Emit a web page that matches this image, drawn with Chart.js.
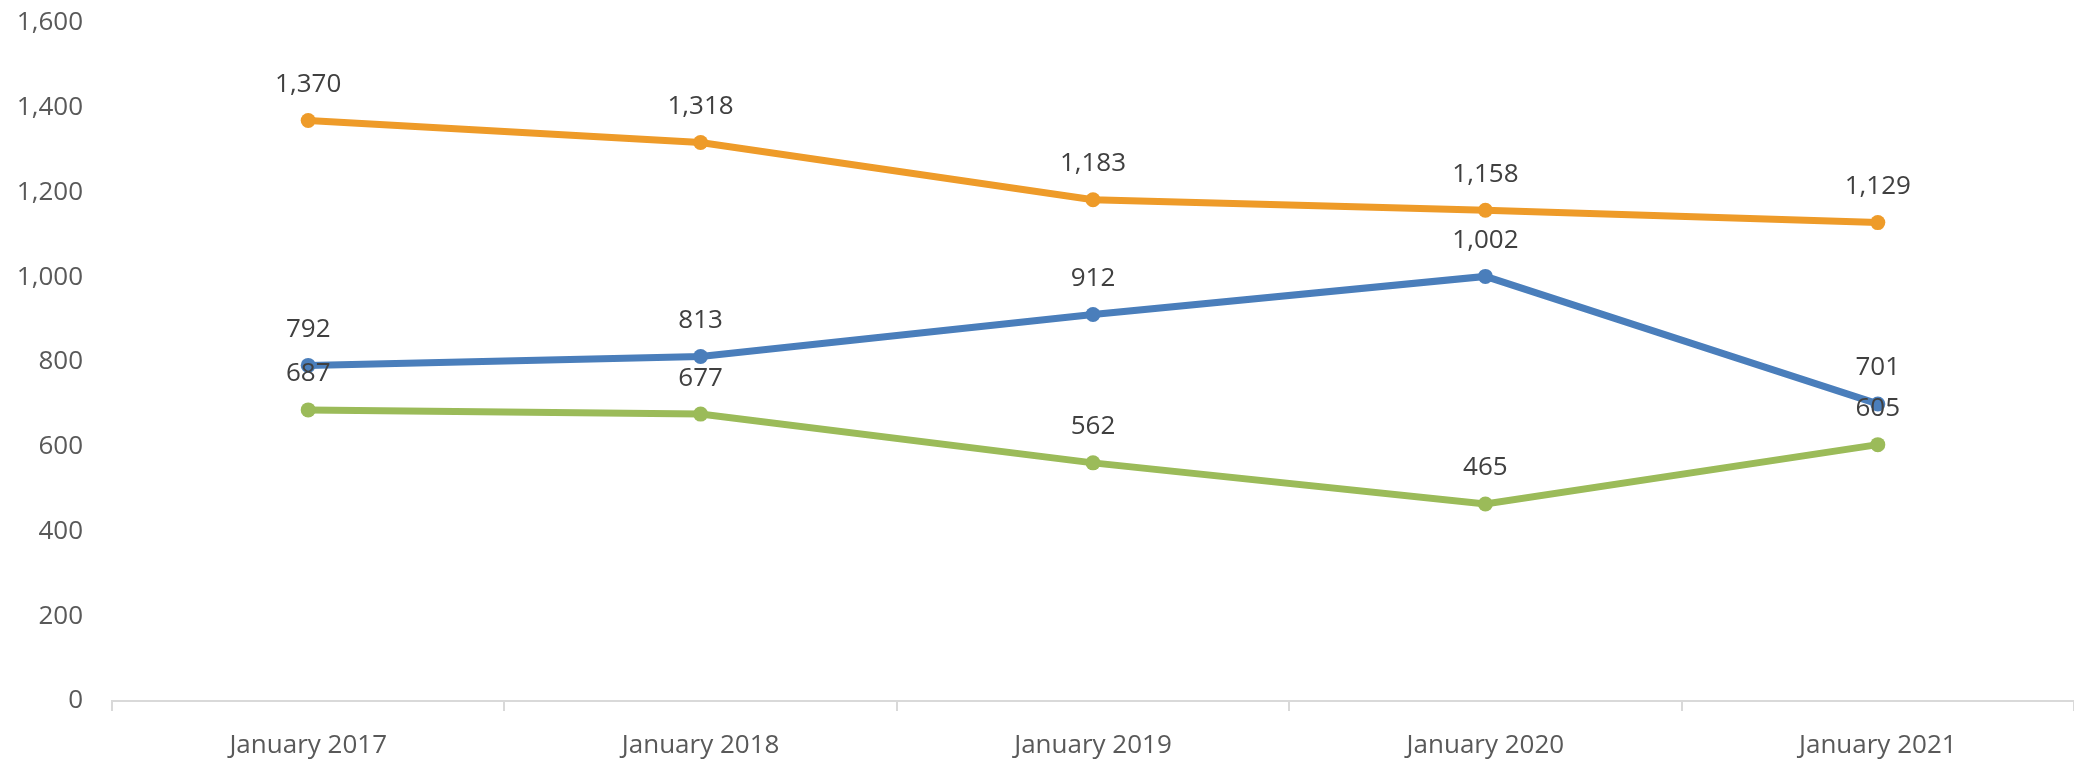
<!DOCTYPE html>
<html>
<head>
<meta charset="utf-8">
<script src="https://cdn.jsdelivr.net/npm/chart.js@4/dist/chart.umd.min.js"></script>
<style>
  html, body { margin: 0; padding: 0; background: #fff; }
  #wrap { width: 2074px; height: 764px; }
</style>
</head>
<body>
<div id="wrap"><canvas id="mainChart" width="2074" height="764"></canvas></div>
<script>
var categories = ["January 2017", "January 2018", "January 2019", "January 2020", "January 2021"];
var blueValues = [792, 813, 912, 1002, 701];
var orangeValues = [1370, 1318, 1183, 1158, 1129];
var greenValues = [687, 677, 562, 465, 605];
var yTicks = [0, 200, 400, 600, 800, 1000, 1200, 1400, 1600];

var main = document.getElementById('mainChart');

// draws the value above each point, like excel data labels
var pointLabels = {
  id: 'pointLabels',
  afterDatasetsDraw: function (chart) {
    var ctx = chart.ctx;
    ctx.save();
    ctx.font = '26px "Open Sans"';
    ctx.fillStyle = '#404040';
    ctx.textAlign = 'center';
    ctx.textBaseline = 'middle';
    chart.data.datasets.forEach(function (ds, i) {
      var meta = chart.getDatasetMeta(i);
      meta.data.forEach(function (pt, j) {
        ctx.fillText(ds.data[j].toLocaleString('en-US'), pt.x, pt.y - 36);
      });
    });
    ctx.restore();
  }
};

function series(values, color) {
  return {
    data: values,
    borderColor: color,
    backgroundColor: color,
    borderWidth: 7,
    pointRadius: 7.5,
    pointHoverRadius: 7.5,
    pointBorderWidth: 0,
    tension: 0
  };
}

var chart = new Chart(main, {
  type: 'line',
  data: {
    labels: categories,
    datasets: [
      series(blueValues, '#4A7EBB'),
      series(orangeValues, '#EE9B29'),
      series(greenValues, '#9BBB59')
    ]
  },
  plugins: [pointLabels],
  options: {
    responsive: false,
    animation: false,
    layout: { autoPadding: false, padding: { top: 23, right: 0, left: 0, bottom: 0 } },
    plugins: {
      legend: { display: false },
      tooltip: { enabled: false }
    },
    scales: {
      x: {
        offset: true,
        grid: {
          offset: true,
          drawOnChartArea: false,
          tickLength: 10,
          color: '#D9D9D9',
          lineWidth: 2
        },
        border: { color: '#D9D9D9', width: 2 },
        ticks: {
          padding: 19,
          color: '#595959',
          font: { family: 'Open Sans', size: 26 },
          maxRotation: 0
        },
        afterFit: function (scale) {
          scale.height = 63;
          scale.paddingLeft = 0;
          scale.paddingRight = 0;
        }
      },
      y: {
        min: 0,
        max: 1600,
        grid: { display: false, drawTicks: false },
        border: { display: false },
        afterBuildTicks: function (scale) {
          scale.ticks = yTicks.map(function (v) { return { value: v }; });
        },
        ticks: {
          padding: 29,
          color: '#595959',
          font: { family: 'Open Sans', size: 26 },
          callback: function (v) { return v.toLocaleString('en-US'); }
        },
        afterFit: function (scale) {
          scale.width = 112;
          scale.paddingTop = 0;
          scale.paddingBottom = 0;
        }
      }
    }
  }
});
</script>
</body>
</html>
